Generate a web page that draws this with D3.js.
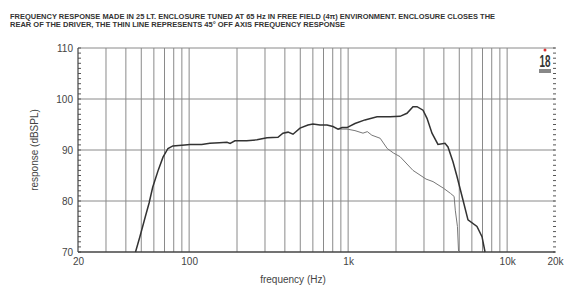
<!DOCTYPE html>
<html>
<head>
<meta charset="utf-8">
<script src="https://cdn.jsdelivr.net/npm/d3@7"></script>
<style>
	body { margin: 0; background: #fff; }
	svg { display: block; font-family: "Liberation Sans", Arial, sans-serif; }
</style>
</head>
<body>
<div id="chart"></div>
<script>
// on-axis response (thick line): frequency in Hz, level in dB
var onFreq = [46, 49, 53, 56, 59, 64, 68.5, 73.6, 79, 94, 101, 120, 135, 155, 173, 181, 194, 230, 267, 309, 362, 389, 419, 450, 498, 559, 601, 665, 736, 803, 864, 916, 984, 1104, 1276, 1520, 1834, 2120, 2344, 2558, 2712, 2958, 3134, 3368, 3672, 4066, 4246, 4564, 4838, 5276, 5672, 6460, 6950, 7260];
var onLevel = [70, 73, 76.9, 79.6, 82.7, 86.1, 88.6, 90.3, 90.8, 91.0, 91.1, 91.1, 91.3, 91.4, 91.5, 91.3, 91.8, 91.8, 92.0, 92.4, 92.5, 93.3, 93.5, 93.1, 94.3, 94.9, 95.1, 94.9, 94.9, 94.6, 94.1, 94.4, 94.4, 95.2, 95.9, 96.5, 96.5, 96.6, 97.2, 98.5, 98.5, 97.8, 96.2, 93.3, 91.1, 91.3, 90.6, 87.7, 84.8, 80.2, 76.3, 75.0, 73.0, 70.0];

// 45 degree off-axis response (thin line)
var offFreq = [864, 984, 1104, 1240, 1320, 1410, 1590, 1760, 1930, 2120, 2558, 3090, 3420, 3980, 4400, 4640, 4720, 4870, 4950];
var offLevel = [94.1, 94.1, 93.8, 93.3, 93.6, 92.9, 92.3, 90.3, 89.4, 88.7, 86.0, 84.3, 83.8, 82.5, 81.5, 80.9, 78.2, 75.0, 70.0];

var xTickValues = [20, 100, 1000, 10000, 20000];
var xTickLabels = ["20", "100", "1k", "10k", "20k"];
var yTickValues = [70, 80, 90, 100, 110];
var xGrid = [30, 40, 50, 60, 70, 80, 90, 100, 200, 300, 400, 500, 600, 700, 800, 900, 1000, 2000, 3000, 4000, 5000, 6000, 7000, 8000, 9000, 10000];

var titleLines = [
	"FREQUENCY RESPONSE MADE IN 25 LT. ENCLOSURE TUNED AT 65 Hz IN FREE FIELD (4\u03c0) ENVIRONMENT. ENCLOSURE CLOSES THE",
	"REAR OF THE DRIVER, THE THIN LINE REPRESENTS 45\u00b0 OFF AXIS FREQUENCY RESPONSE"
];

var width = 564, height = 285;
var margin = { top: 48, right: 9, bottom: 33, left: 78 };
var w = width - margin.left - margin.right,
	h = height - margin.top - margin.bottom;

var svg = d3.select("#chart").append("svg")
	.attr("width", width)
	.attr("height", height);

// title
svg.selectAll(".title")
	.data(titleLines)
	.enter()
	.append("text")
	.attr("x", 10)
	.attr("y", function (d, i) { return 19 + i * 8; })
	.attr("textLength", function (d, i) { return i == 0 ? 485 : 335; })
	.attr("lengthAdjust", "spacingAndGlyphs")
	.style("font-size", "7.5px")
	.style("font-weight", "bold")
	.style("fill", "#333")
	.text(function (d) { return d; });

var g = svg.append("g")
	.attr("transform", "translate(" + margin.left + "," + margin.top + ")");

var x = d3.scaleLog().domain([20, 20000]).range([0, w]);
var y = d3.scaleLinear().domain([70, 110]).range([h, 0]);

// vertical grid
g.selectAll(".vgrid")
	.data(xGrid)
	.enter()
	.append("line")
	.attr("x1", function (d) { return x(d); })
	.attr("x2", function (d) { return x(d); })
	.attr("y1", 0)
	.attr("y2", h)
	.style("stroke", "#8a8a8a")
	.style("stroke-width", 1);

// horizontal grid
g.selectAll(".hgrid")
	.data([80, 90, 100, 110])
	.enter()
	.append("line")
	.attr("x1", 0)
	.attr("x2", w)
	.attr("y1", function (d) { return y(d); })
	.attr("y2", function (d) { return y(d); })
	.style("stroke", "#8a8a8a")
	.style("stroke-width", 1);

// small 1 dB ticks on both sides
var minor = d3.range(70, 111);
g.selectAll(".lminor")
	.data(minor)
	.enter()
	.append("line")
	.attr("x1", 0).attr("x2", 3)
	.attr("y1", function (d) { return y(d); })
	.attr("y2", function (d) { return y(d); })
	.style("stroke", "#555");
g.selectAll(".rminor")
	.data(minor)
	.enter()
	.append("line")
	.attr("x1", w - 2).attr("x2", w + 1)
	.attr("y1", function (d) { return y(d); })
	.attr("y2", function (d) { return y(d); })
	.style("stroke", "#555");

// frame
g.append("line").attr("x1", 0).attr("x2", 0).attr("y1", 0).attr("y2", h)
	.style("stroke", "#444").style("stroke-width", 1.2);
g.append("line").attr("x1", 0).attr("x2", w).attr("y1", h).attr("y2", h)
	.style("stroke", "#444").style("stroke-width", 1.5);

// y axis labels
g.append("g")
	.style("font-size", "10px")
	.call(d3.axisLeft(y).tickValues(yTickValues).tickSize(0).tickPadding(5))
	.call(function (a) { a.select(".domain").remove(); })
	.selectAll("text").style("fill", "#444").style("font-family", "Liberation Sans, Arial, sans-serif");

// x axis labels
g.append("g")
	.attr("transform", "translate(0," + h + ")")
	.style("font-size", "10px")
	.call(d3.axisBottom(x).tickValues(xTickValues).tickSize(0).tickPadding(6)
		.tickFormat(function (d, i) { return xTickLabels[i]; }))
	.call(function (a) { a.select(".domain").remove(); })
	.selectAll("text").style("fill", "#444").style("font-family", "Liberation Sans, Arial, sans-serif");

// axis titles
svg.append("text")
	.attr("transform", "translate(38," + (margin.top + h / 2) + ") rotate(-90)")
	.attr("text-anchor", "middle")
	.style("font-size", "10px")
	.style("fill", "#444")
	.text("response (dBSPL)");
svg.append("text")
	.attr("x", 293)
	.attr("y", 283)
	.attr("text-anchor", "middle")
	.style("font-size", "10px")
	.style("fill", "#444")
	.text("frequency (Hz)");

var line = d3.line()
	.x(function (d) { return x(d[0]); })
	.y(function (d) { return y(d[1]); });

// off axis thin line
g.append("path")
	.datum(d3.zip(offFreq, offLevel))
	.attr("d", line)
	.style("fill", "none")
	.style("stroke", "#777")
	.style("stroke-width", 1);

// on axis thick line
g.append("path")
	.datum(d3.zip(onFreq, onLevel))
	.attr("d", line)
	.style("fill", "none")
	.style("stroke", "#333")
	.style("stroke-width", 1.5);

// logo
var logo = svg.append("g").attr("transform", "translate(545,0)");
logo.append("circle").attr("cx", 0).attr("cy", 50).attr("r", 1.5).style("fill", "#d33");
logo.append("text").attr("x", 0).attr("y", 67).attr("text-anchor", "middle")
	.attr("textLength", 11).attr("lengthAdjust", "spacingAndGlyphs")
	.style("font-size", "17px").style("font-weight", "bold").style("fill", "#333").text("18");
logo.append("rect").attr("x", -6).attr("y", 69).attr("width", 12).attr("height", 4).style("fill", "#888");
</script>
</body>
</html>
